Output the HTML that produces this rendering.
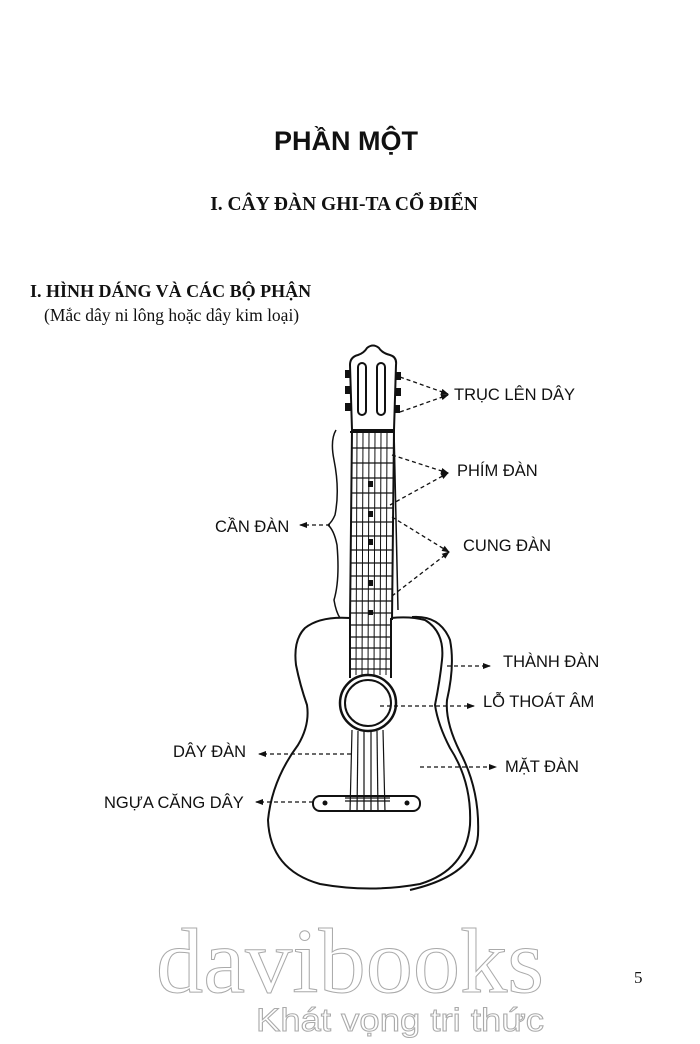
<!DOCTYPE html>
<html><head><meta charset="utf-8"><style>
html,body{margin:0;padding:0;background:#fff;}
svg{display:block;}
</style></head><body>
<svg width="700" height="1044" viewBox="0 0 700 1044" xmlns="http://www.w3.org/2000/svg">
<defs>
<marker id="ar" markerWidth="8" markerHeight="8" refX="7" refY="4" orient="auto" markerUnits="userSpaceOnUse">
<path d="M0,1 L8,4 L0,7 Z" fill="#111"/></marker>
</defs>
<g font-family="'Liberation Sans',sans-serif" fill="#111">
<text x="346" y="150" font-size="27" font-weight="bold" text-anchor="middle">PHẦN MỘT</text>
</g>
<g font-family="'Liberation Serif',serif" fill="#111">
<text x="344" y="210" font-size="19.5" font-weight="bold" text-anchor="middle">I. CÂY ĐÀN GHI-TA CỔ ĐIỂN</text>
<text x="30" y="297" font-size="18" font-weight="bold">I. HÌNH DÁNG VÀ CÁC BỘ PHẬN</text>
<text x="44" y="321" font-size="17.5">(Mắc dây ni lông hoặc dây kim loại)</text>
<text x="634" y="983" font-size="17">5</text>
</g>

<g stroke="#111" fill="none" stroke-width="2">
<path d="M352,430 L350,365 Q350,357 358,355 Q364,353 367,348 Q373,343 379,348 Q382,353 390,355 Q397,357 396,365 L394,430 Z"/>
<rect x="358" y="363" width="8" height="52" rx="4"/>
<rect x="377" y="363" width="8" height="52" rx="4"/>
<g fill="#111" stroke="none">
<rect x="345" y="370" width="6" height="8"/><rect x="345" y="386" width="6" height="8"/><rect x="345" y="403" width="6" height="8"/>
<rect x="395" y="372" width="6" height="8"/><rect x="395" y="388" width="6" height="8"/><rect x="394" y="405" width="6" height="8"/>
</g>
<path d="M352,430 L350,620 M394,430 L392,620"/>
<path d="M394,430 L398,610" stroke-width="1.5"/>
</g>
<g stroke="#111" stroke-width="1">
<line x1="350" y1="432" x2="394" y2="432" stroke-width="2"/>
<line x1="357" y1="432" x2="356" y2="675"/><line x1="363" y1="432" x2="362" y2="675"/>
<line x1="369" y1="432" x2="368" y2="675"/><line x1="375" y1="432" x2="374" y2="675"/>
<line x1="381" y1="432" x2="380" y2="675"/><line x1="387" y1="432" x2="386" y2="675"/>
<g stroke-width="1.3">
<line x1="351" y1="448" x2="393" y2="448"/><line x1="351" y1="463" x2="393" y2="463"/>
<line x1="351" y1="478" x2="393" y2="478"/><line x1="351" y1="493" x2="393" y2="493"/>
<line x1="351" y1="508" x2="393" y2="508"/><line x1="351" y1="522" x2="393" y2="522"/>
<line x1="351" y1="536" x2="393" y2="536"/><line x1="351" y1="550" x2="393" y2="550"/>
<line x1="351" y1="563" x2="393" y2="563"/><line x1="351" y1="576" x2="393" y2="576"/>
<line x1="351" y1="589" x2="393" y2="589"/><line x1="351" y1="601" x2="393" y2="601"/>
<line x1="351" y1="613" x2="393" y2="613"/><line x1="351" y1="625" x2="391" y2="625"/>
<line x1="351" y1="637" x2="391" y2="637"/><line x1="351" y1="648" x2="391" y2="648"/>
<line x1="351" y1="659" x2="391" y2="659"/><line x1="351" y1="669" x2="391" y2="669"/>
</g>
</g>
<g fill="#111"><rect x="368" y="481" width="5" height="6"/><rect x="368" y="511" width="5" height="6"/><rect x="368" y="539" width="5" height="6"/><rect x="368" y="580" width="5" height="6"/><rect x="368" y="610" width="5" height="5"/></g>
<g stroke="#111" fill="none" stroke-width="2">
<line x1="350" y1="618" x2="350" y2="678"/><line x1="391" y1="618" x2="391" y2="678"/>
<path d="M350,618 Q320,616 305,628 Q293,640 296,665 Q300,685 307,705 Q310,725 298,745 Q272,780 268,820 Q270,870 320,884 Q370,893 420,884 Q466,870 470,825 Q472,782 450,748 Q438,725 435,705 Q440,680 442,660 Q445,632 425,620 Q410,616 391,618"/>
<path d="M412,617 Q440,615 450,640 Q455,665 447,700 Q445,722 460,752 Q480,790 478,835 Q475,875 410,890"/>
<circle cx="368" cy="703" r="28" stroke-width="2.5"/>
<circle cx="368" cy="703" r="23" stroke-width="2"/>
<rect x="313" y="796" width="107" height="15" rx="7"/>
</g>
<g fill="#111"><circle cx="325" cy="803" r="2.5"/><circle cx="407" cy="803" r="2.5"/></g>
<g stroke="#111" stroke-width="1.2">
<line x1="352" y1="730" x2="350" y2="812"/><line x1="358" y1="731" x2="357" y2="812"/>
<line x1="364" y1="731" x2="364" y2="812"/><line x1="371" y1="731" x2="371" y2="812"/>
<line x1="377" y1="731" x2="378" y2="812"/><line x1="383" y1="730" x2="385" y2="812"/>
<line x1="345" y1="798" x2="390" y2="798"/><line x1="345" y1="801" x2="390" y2="801"/>
</g>
<path d="M336,430 Q330,440 334,460 Q340,490 335,515 Q332,522 328,525 Q334,530 337,545 Q340,580 334,600 Q336,612 340,618" stroke="#111" stroke-width="1.5" fill="none"/>

<g stroke="#111" stroke-width="1.3" stroke-dasharray="4,3" fill="none" marker-end="url(#ar)">
<line x1="400" y1="377" x2="448" y2="394"/>
<line x1="400" y1="412" x2="448" y2="395"/>
<line x1="392" y1="455" x2="448" y2="473"/>
<line x1="390" y1="505" x2="448" y2="473"/>
<line x1="392" y1="517" x2="449" y2="552"/>
<line x1="392" y1="596" x2="449" y2="552"/>
<line x1="330" y1="525" x2="300" y2="525"/>
<line x1="447" y1="666" x2="490" y2="666"/>
<line x1="380" y1="706" x2="474" y2="706"/>
<line x1="351" y1="754" x2="259" y2="754"/>
<line x1="420" y1="767" x2="496" y2="767"/>
<line x1="313" y1="802" x2="256" y2="802"/>
</g>

<g font-family="'Liberation Sans',sans-serif" font-size="16.5" fill="#111">
<text x="454" y="400">TRỤC LÊN DÂY</text>
<text x="457" y="476">PHÍM ĐÀN</text>
<text x="463" y="551">CUNG ĐÀN</text>
<text x="215" y="532">CẦN ĐÀN</text>
<text x="503" y="667">THÀNH ĐÀN</text>
<text x="483" y="707">LỖ THOÁT ÂM</text>
<text x="173" y="757">DÂY ĐÀN</text>
<text x="505" y="772">MẶT ĐÀN</text>
<text x="104" y="808">NGỰA CĂNG DÂY</text>
</g>

<g fill="none" stroke="#aaa" stroke-width="1">
<text x="156" y="992" font-family="'Liberation Serif',serif" font-size="92" textLength="388" lengthAdjust="spacingAndGlyphs">davibooks</text>
<text x="256" y="1031" font-family="'Liberation Sans',sans-serif" font-size="32" textLength="288" lengthAdjust="spacingAndGlyphs">Khát vọng tri thức</text>
</g>
</svg>
</body></html>
